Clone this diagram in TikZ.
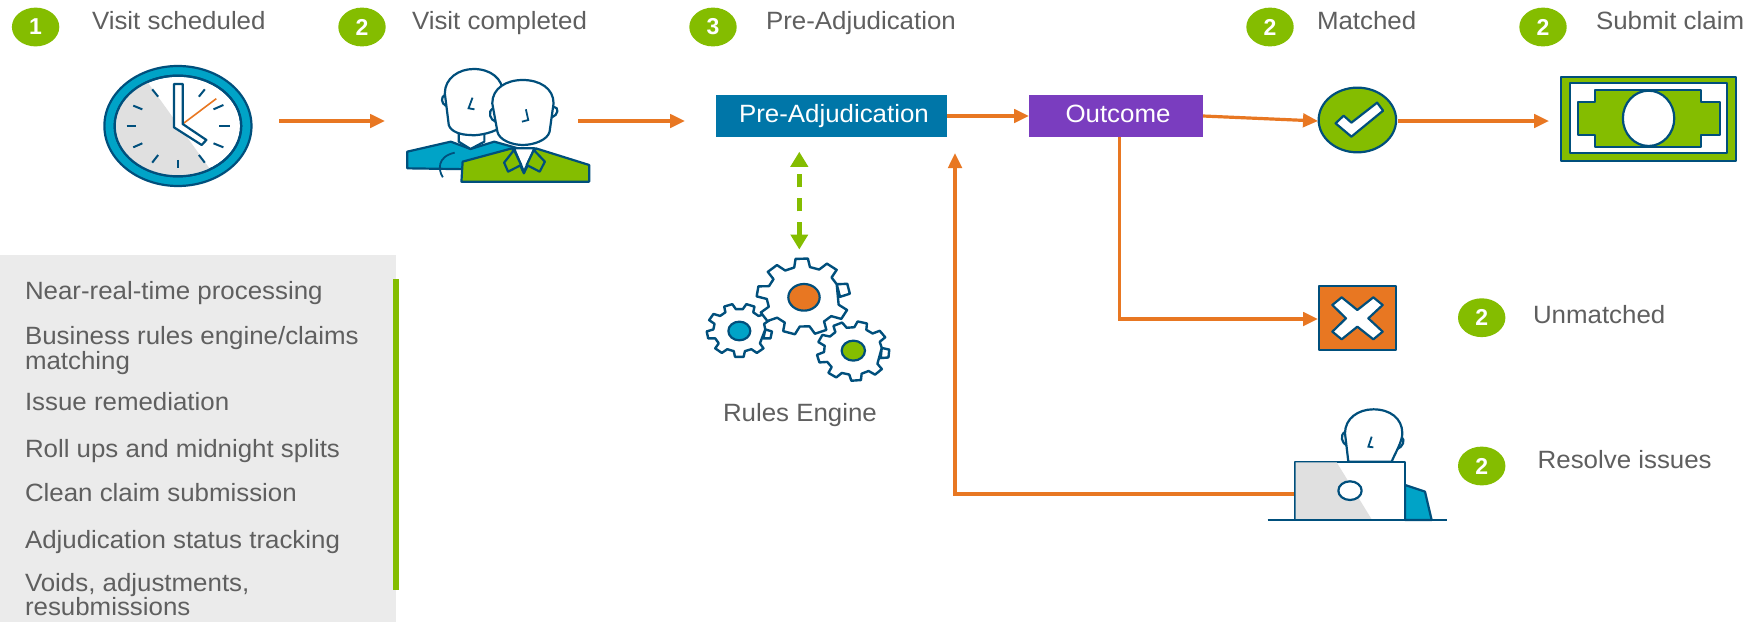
\documentclass[tikz,border=0pt]{standalone}
\usepackage{fontspec}
\setmainfont{Liberation Sans}
\newfontfamily\lblfont[FakeStretch=1.035]{Liberation Sans}
\usetikzlibrary{arrows.meta,calc}
\definecolor{navy}{HTML}{004F7C}
\definecolor{teal}{HTML}{00A3C7}
\definecolor{lime}{HTML}{84BD00}
\definecolor{flow}{HTML}{E87722}
\definecolor{txt}{HTML}{5F5F5F}
\definecolor{panel}{HTML}{EBEBEB}
\definecolor{greyface}{HTML}{E0E0E0}
\definecolor{boxblue}{HTML}{0076A8}
\definecolor{boxpurple}{HTML}{7A3DBF}
\tikzset{
  lbl/.style={anchor=base west,inner sep=0pt,outer sep=0pt,text=txt,align=left,font=\lblfont\fontsize{25}{21.7}\selectfont},
  procbox/.style={inner sep=0pt,outer sep=0pt,text=white,minimum height=41.5pt,font=\lblfont\fontsize{25}{25}\selectfont},
  hit/.style={inner sep=0pt,outer sep=0pt},
  orangeflow/.style={draw=flow,line width=3.2pt,-{Triangle[length=15pt,width=13.5pt]}},
  rulesflow/.style={draw=lime,line width=4.5pt,dash pattern=on 13pt off 11pt,{Triangle[length=15pt,width=17pt]}-{Triangle[length=15pt,width=17pt]}},
  icon/.style={draw=navy,line width=2.2pt,line join=round},
  gearline/.style={draw=navy,line width=2.4pt,line join=round,fill=white},
  zoomA/.style={x=0.3954pt,y=-0.3333pt},
  zoomC/.style={x=0.3521pt,y=-0.3333pt,xshift=1200pt},
  zoomB/.style={x=0.3333pt,y=-0.3333pt,xshift=680pt,yshift=-60pt},
  zoomD/.style={x=0.3333pt,y=-0.3333pt,xshift=1240pt,yshift=-260pt},
}
\newcommand{\stepbadge}[4]{%
  \fill[lime] (#2,#3) ellipse [x radius=23.7,y radius=19.4];
  \node[hit,text=white,font=\bfseries\fontsize{23}{23}\selectfont] (#1) at (#2,#3) {#4};
}
\newcommand{\gearicon}[6]{%
  \begin{scope}[shift={(#1,#2)},yscale=0.82]
  \draw[gearline] ({#6-0.31*360/#5}:#4)
    \foreach \i in {1,...,#5}{
      -- ({#6+\i*360/#5-0.31*360/#5}:#4)
      -- ({#6+\i*360/#5-0.19*360/#5}:#3)
      -- ({#6+\i*360/#5+0.19*360/#5}:#3)
      -- ({#6+\i*360/#5+0.31*360/#5}:#4)
    } -- cycle;
  \end{scope}
}
\begin{document}
\begin{tikzpicture}[x=1pt,y=-1pt]
\useasboundingbox (0,0) rectangle (1752,622);
\fill[white] (0,0) rectangle (1752,622);

% side panel
\fill[panel] (0,254.7) rectangle (396,622);
\fill[lime] (393,279) rectangle (399,590);
\node[lbl] (p1) at (25,299.3) {Near-real-time processing};
\node[lbl] (p2) at (25,369) {Business rules engine/claims\\matching};
\node[lbl] (p3) at (25,410.7) {Issue remediation};
\node[lbl] (p4) at (25,457.3) {Roll ups and midnight splits};
\node[lbl] (p5) at (25,501) {Clean claim submission};
\node[lbl] (p6) at (25,548) {Adjudication status tracking};
\node[lbl] (p7) at (25,615.5) {Voids, adjustments,\\resubmissions};

% badges and headings
\stepbadge{b1}{35.6}{27}{1}
\stepbadge{b2}{362}{27}{2}
\stepbadge{b3}{713}{27}{3}
\stepbadge{b4}{1270}{27}{2}
\stepbadge{b5}{1543}{27}{2}
\stepbadge{b6}{1481.7}{317.7}{2}
\stepbadge{b7}{1481.7}{466}{2}
\node[lbl] (t1) at (92,29) {Visit scheduled};
\node[lbl] (t2) at (412,29) {Visit completed};
\node[lbl] (t3) at (766,29) {Pre-Adjudication};
\node[lbl] (t4) at (1317,29) {Matched};
\node[lbl] (t5) at (1596,29) {Submit claim};
\node[lbl] (t6) at (1533,323) {Unmatched};
\node[lbl] (t7) at (1537.7,468) {Resolve issues};
\node[lbl] (t8) at (723,421.7) {Rules Engine};

% clock
\begin{scope}[zoomA]
  \draw[icon,fill=teal] (450,378) ellipse [x radius=186,y radius=180];
  \draw[icon,fill=white] (450,378) ellipse [x radius=160,y radius=151];
  \begin{scope}
    \clip (450,378) ellipse [x radius=159,y radius=150];
    \fill[greyface] (345,200) -- (563,560) -- (250,560) -- (250,200) -- cycle;
  \end{scope}
  \draw[icon] (450,378) ellipse [x radius=160,y radius=151];
  \foreach \xa/\ya/\xb/\yb in {320/378/345/378,555/378/582/378,450/480/450/505,385/268/400/290,503/290/518/268,337/317/360/328,540/328/565/315,337/442/360/430,540/430/565/442,385/488/400/465,503/465/518/488}
    \draw[navy,line width=2pt] (\xa,\ya) -- (\xb,\yb);
  \draw[flow,line width=1.6pt] (462,372) -- (547,296);
  \draw[icon,fill=white] (440,252) -- (462,252) -- (462,372) -- (522,420) -- (510,435) -- (440,382) -- cycle;
\end{scope}

% two people
\begin{scope}[zoomA]
  \draw[icon,fill=teal] (1030,455) -- (1140,425) -- (1190,447) -- (1250,425) -- (1310,445) -- (1310,510) -- (1030,505) -- cycle;
  \draw[icon,fill=white] (1160,395) -- (1160,425) -- (1190,447) -- (1225,425) -- (1225,395) -- cycle;
  \draw[icon,fill=white] (1125,285) .. controls (1115,290) and (1115,310) .. (1128,318);
  \draw[icon,fill=white] (1125,280) .. controls (1125,235) and (1160,207) .. (1198,207) .. controls (1240,207) and (1272,235) .. (1272,280) -- (1262,385) .. controls (1240,402) and (1200,408) .. (1190,405) .. controls (1165,405) and (1140,395) .. (1135,375) -- cycle;
  \draw[navy,line width=1.8pt] (1195,293) -- (1185,325) -- (1200,328);
  \draw[icon,fill=lime] (1170,485) -- (1295,445) -- (1325,520) -- (1355,445) -- (1490,495) -- (1490,545) -- (1167,545) -- cycle;
  \draw[navy,line width=1.8pt] (1150,458) .. controls (1105,470) and (1108,510) .. (1120,532);
  \draw[icon,fill=white] (1300,445) -- (1325,515) -- (1352,445) -- cycle;
  \draw[icon,fill=lime] (1300,450) -- (1275,488) -- (1285,515) -- (1318,495) -- cycle;
  \draw[icon,fill=lime] (1350,450) -- (1378,485) -- (1365,515) -- (1332,495) -- cycle;
  \draw[icon,fill=white] (1400,320) .. controls (1415,322) and (1412,345) .. (1396,352);
  \draw[icon,fill=white] (1247,325) .. controls (1232,335) and (1240,360) .. (1253,365);
  \draw[icon,fill=white] (1245,310) .. controls (1245,265) and (1280,240) .. (1322,240) .. controls (1365,240) and (1400,265) .. (1400,310) -- (1390,395) .. controls (1385,420) and (1350,435) .. (1322,435) .. controls (1295,435) and (1262,420) .. (1258,395) -- cycle;
  \draw[navy,line width=1.8pt] (1330,328) -- (1336,360) -- (1320,365);
\end{scope}

% gears
\begin{scope}[zoomB]
  \gearicon{178}{811}{98}{78}{9}{10}
  \gearicon{370}{710}{140}{110}{9}{-12}
  \gearicon{519}{873}{109}{87}{9}{5}
  \draw[icon,fill=flow] (372,712) ellipse [x radius=47,y radius=40];
  \draw[icon,fill=teal] (178,813) ellipse [x radius=33,y radius=28];
  \draw[icon,fill=lime] (520,872) ellipse [x radius=35,y radius=30];
\end{scope}

% check mark
\begin{scope}[zoomC]
  \draw[icon,fill=lime] (447,360) ellipse [x radius=110,y radius=97];
  \draw[icon,fill=white] (385,370) -- (408,347) -- (430,368) -- (503,308) -- (520,332) -- (430,410) -- cycle;
\end{scope}

% money
\begin{scope}[zoomC]
  \draw[icon,fill=lime] (1025,230) rectangle (1523,483);
  \draw[icon,fill=white] (1050,250) rectangle (1497,460);
  \draw[icon,fill=lime] (1122,270) -- (1423,270) -- (1423,305) -- (1476,305) -- (1476,405) -- (1423,405) -- (1423,440) -- (1122,440) -- (1122,405) -- (1073,405) -- (1073,305) -- (1122,305) -- cycle;
  \draw[icon,fill=white] (1274,355) ellipse [x radius=73,y radius=83];
\end{scope}

% cross
\begin{scope}[zoomD]
  \draw[icon,fill=flow] (237,77) rectangle (468,270);
  \draw[icon,fill=white] (305,112) -- (352,150) -- (400,112) -- (428,135) -- (385,175) -- (428,215) -- (400,238) -- (352,200) -- (305,238) -- (277,215) -- (318,175) -- (277,135) -- cycle;
\end{scope}

% laptop user
\begin{scope}[zoomD]
  \draw[icon,fill=white] (316,515) .. controls (298,525) and (305,550) .. (322,558);
  \draw[icon,fill=white] (484,530) .. controls (498,540) and (488,562) .. (470,568);
  \draw[icon,fill=white] (325,605) -- (315,520) .. controls (315,475) and (355,448) .. (400,448) .. controls (450,448) and (487,475) .. (487,520) .. controls (487,545) and (465,580) .. (455,605) -- cycle;
  \draw[navy,line width=1.8pt] (395,530) -- (385,560) -- (400,562);
  \draw[icon,fill=teal] (495,675) -- (555,695) -- (575,780) -- (495,780) -- cycle;
  \draw[icon,fill=white] (165,605) rectangle (495,780);
  \fill[greyface] (167,607) -- (290,607) -- (395,778) -- (167,778) -- cycle;
  \draw[icon,fill=white] (330,692) ellipse [x radius=35,y radius=28];
  \draw[navy,line width=2pt] (83,780) -- (622,780);
\end{scope}

% process boxes
\node[procbox,fill=boxblue,minimum width=231pt] (preadj) at (831.5,116) {};
\node[hit,text=white,anchor=base west,font=\lblfont\fontsize{25}{25}\selectfont] (preadjtext) at (739,122.3) {Pre-Adjudication};
\node[procbox,fill=boxpurple,minimum width=174pt] (outcome) at (1116,116) {};
\node[hit,text=white,anchor=base,font=\lblfont\fontsize{25}{25}\selectfont] (outcometext) at (1118,122.3) {Outcome};

% invisible extents of the icons, for the connectors
\node[hit,minimum width=174pt,minimum height=120pt] (clock) at (192,121) {};
\node[hit,minimum width=193pt,minimum height=120pt] (people) at (481.5,121) {};
\node[hit,minimum width=80pt,minimum height=66pt] (match) at (1358,121) {};
\node[hit,minimum width=182pt,minimum height=90pt] (money) at (1640,121) {};
\node[hit,minimum width=80pt,minimum height=66pt] (unmatch) at (1358,319) {};
\node[hit,minimum width=112pt,minimum height=116pt] (laptop) at (1350,494) {};
\node[hit,minimum width=180pt,minimum height=161pt] (gears) at (799.3,330) {};
\coordinate (ret) at (955,153);

% connectors
\draw[orangeflow] (clock.east) -- (people.west);
\draw[orangeflow] (people.east) -- ($(preadj.west |- people.east)+(-31,0)$);
\draw[orangeflow] (preadj.east) -- (outcome.west);
\draw[orangeflow] (outcome.east) -- (match.west);
\draw[orangeflow] (match.east) -- (money.west);
\draw[orangeflow] ([xshift=3.5pt]outcome.south) |- (unmatch.west);
\draw[orangeflow] (laptop.west) -| (ret);
\draw[rulesflow] (gears.north) -- ($(gears.north |- preadj.south)+(0,15)$);
\end{tikzpicture}
\end{document}
